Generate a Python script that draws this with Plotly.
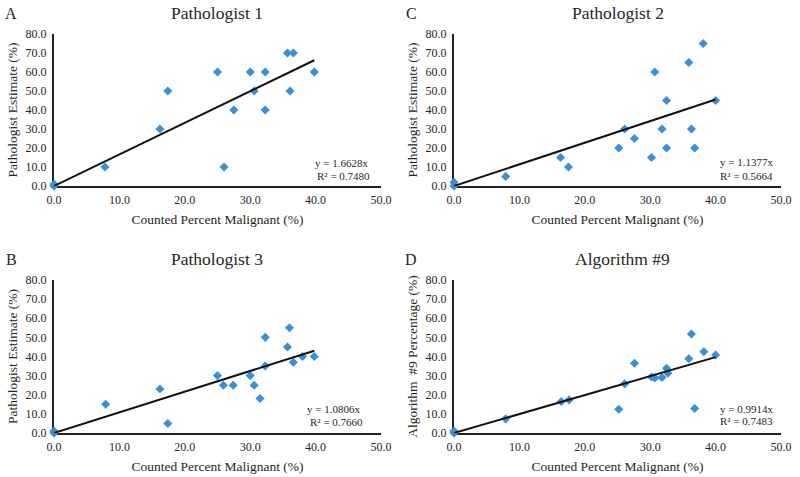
import plotly.graph_objects as go

# counted percent malignant (x) vs estimate (y), one pair of lists per panel
x_p1 = [0, 0, 7.8, 16.2, 17.4, 25.0, 26.0, 27.5, 30.0, 30.6, 32.3, 32.3, 35.7, 36.1, 36.6, 39.8]
y_p1 = [0, 1, 10, 30, 50, 60, 10, 40, 60, 50, 60, 40, 70, 50, 70, 60]

x_p2 = [0, 0, 7.9, 16.3, 17.5, 25.2, 26.1, 27.6, 30.2, 30.7, 31.8, 32.5, 32.5, 35.9, 36.3, 36.8, 38.1, 40.0]
y_p2 = [0, 2, 5, 15, 10, 20, 30, 25, 15, 60, 30, 45, 20, 65, 30, 20, 75, 45]

x_p3 = [0, 0, 7.9, 16.2, 17.4, 25.0, 25.9, 27.4, 30.0, 30.6, 31.5, 32.3, 32.3, 35.7, 36.0, 36.6, 38.0, 39.8]
y_p3 = [0, 1, 15, 23, 5, 30, 25, 25, 30, 25, 18, 50, 35, 45, 55, 37, 40, 40]

x_alg = [0, 0, 7.9, 16.4, 17.6, 25.2, 26.1, 27.6, 30.2, 30.7, 31.8, 32.5, 32.7, 35.9, 36.3, 36.8, 38.2, 40.0]
y_alg = [0, 1, 7.4, 16.5, 17.3, 12.4, 25.7, 36.5, 29.3, 28.8, 29.0, 33.8, 31.3, 38.8, 51.8, 12.8, 42.5, 40.8]

titles = ["Pathologist 1", "Pathologist 2", "Pathologist 3", "Algorithm #9"]
letters = ["A", "C", "B", "D"]
y_titles = ["Pathologist Estimate (%)", "Pathologist Estimate (%)",
            "Pathologist Estimate (%)", "Algorithm \u00a0#9 Percentage (%)"]
slopes = [1.6628, 1.1377, 1.0806, 0.9914]
r2 = ["0.7480", "0.5664", "0.7660", "0.7483"]

xs = [x_p1, x_p2, x_p3, x_alg]
ys = [y_p1, y_p2, y_p3, y_alg]

FONT = "Liberation Serif"
BLUE = "#3a8fd6"
TXT = "#262626"
W, H = 800, 477

# panel boxes in pixels: (left, right, top, bottom)
boxes = [(54, 381, 34, 186), (454, 781, 34, 186),
         (54, 381, 280, 433), (454, 781, 280, 433)]
# equation label positions in data units
eq_pos = [(43.9, 12.2, 44.2, 5.3), (44.8, 12.4, 44.8, 5.4),
          (42.7, 12.6, 43.2, 6.0), (44.8, 12.6, 44.8, 6.2)]

fig = go.Figure()
layout = dict(
    width=W, height=H, margin=dict(l=0, r=0, t=0, b=0),
    paper_bgcolor="white", plot_bgcolor="white", showlegend=False,
    font=dict(family=FONT, color=TXT),
)
annotations = []

for i in range(4):
    sfx = "" if i == 0 else str(i + 1)
    xa, ya = "x" + sfx, "y" + sfx
    l, r, t, b = boxes[i]

    fig.add_trace(go.Scatter(
        x=xs[i], y=ys[i], mode="markers", xaxis=xa, yaxis=ya,
        marker=dict(symbol="diamond", size=7, color=BLUE),
        cliponaxis=False,
    ))
    xmax = max(xs[i])
    fig.add_trace(go.Scatter(
        x=[0, xmax], y=[0, slopes[i] * xmax], mode="lines", xaxis=xa, yaxis=ya,
        line=dict(color="#111111", width=2), cliponaxis=False,
    ))

    layout["xaxis" + sfx] = dict(
        domain=[l / W, r / W], anchor=ya, range=[0, 50], dtick=10, tickformat=".1f",
        showline=True, linecolor="#222222", linewidth=2, showgrid=False, zeroline=False,
        ticks="outside", ticklen=2, tickcolor="rgba(0,0,0,0)",
        tickfont=dict(size=12, family=FONT, color=TXT),
        title=dict(text="Counted Percent Malignant (%)", standoff=8,
                   font=dict(size=13.5, family=FONT, color=TXT)),
        automargin=False, layer="below traces",
    )
    layout["yaxis" + sfx] = dict(
        domain=[1 - b / H, 1 - t / H], anchor=xa, range=[0, 80], dtick=10, tickformat=".1f",
        showline=True, linecolor="#222222", linewidth=2, showgrid=False, zeroline=False,
        ticks="outside", ticklen=3, tickcolor="rgba(0,0,0,0)",
        tickfont=dict(size=12, family=FONT, color=TXT),
        title=dict(text=y_titles[i], standoff=5,
                   font=dict(size=13.5, family=FONT, color=TXT)),
        automargin=False, layer="below traces",
    )

    cx = (l + r) / 2 + (5 if i == 3 else 0)
    annotations.append(dict(
        text=titles[i], x=cx / W, y=1 - (t - 21) / H, xref="paper", yref="paper",
        showarrow=False, xanchor="center", yanchor="middle",
        font=dict(size=17.5, family=FONT, color=TXT),
    ))
    annotations.append(dict(
        text=letters[i], x=(l - 43) / W, y=1 - (t - 21) / H, xref="paper", yref="paper",
        showarrow=False, xanchor="center", yanchor="middle",
        font=dict(size=16, family=FONT, color=TXT),
    ))
    ex1, ey1, ex2, ey2 = eq_pos[i]
    annotations.append(dict(
        text="y = %.4fx" % slopes[i], x=ex1, y=ey1, xref=xa, yref=ya,
        showarrow=False, xanchor="center", yanchor="middle",
        font=dict(size=11, family=FONT, color=TXT),
    ))
    annotations.append(dict(
        text="R² = " + r2[i], x=ex2, y=ey2, xref=xa, yref=ya,
        showarrow=False, xanchor="center", yanchor="middle",
        font=dict(size=11, family=FONT, color=TXT),
    ))

layout["annotations"] = annotations
fig.update_layout(**layout)

# drop the default 8px body margin so the figure sits at the page origin
fig.write_html("out.html", config={"displayModeBar": False},
               post_script="document.body.style.margin='0';")
